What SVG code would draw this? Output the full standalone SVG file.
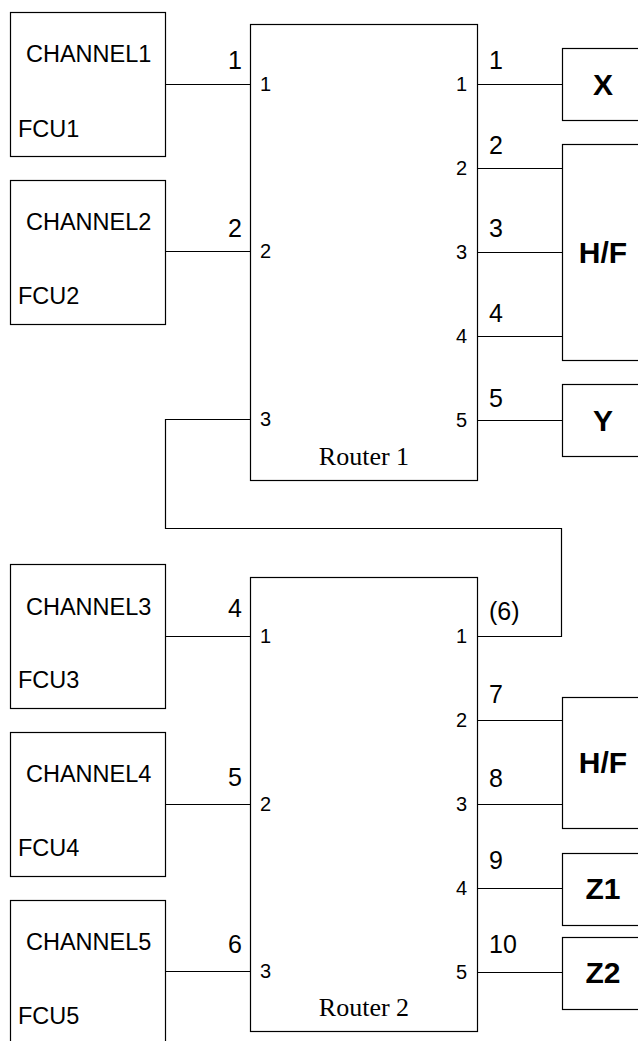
<svg xmlns="http://www.w3.org/2000/svg" width="638" height="1041" viewBox="0 0 638 1041">
<style>
.box{fill:#fff;stroke:#000;stroke-width:1.2}
.wire{fill:none;stroke:#000;stroke-width:1.2}
.t{font-family:"Liberation Sans",Arial,sans-serif;fill:#000}
.ch{font-size:23.5px}
.big{font-size:25px}
.sm{font-size:20px}
.e{text-anchor:end}
.bold{font-size:30px;font-weight:bold;text-anchor:middle}
.rt{font-family:"Liberation Serif","Times New Roman",serif;font-size:26px;text-anchor:middle;fill:#000}
</style>
<rect width="638" height="1041" fill="#fff"/>
<g id="connectors">
<path class="wire" d="M166 84.5H250M166 251.5H250M166 636.5H250M166 804.5H250M166 971.5H250"/>
<path class="wire" d="M478 84.5H562M478 168.5H562M478 252.5H562M478 336.5H562M478 420.5H562"/>
<path class="wire" d="M478 720.5H562M478 804.5H562M478 888.5H562M478 972.5H562"/>
<path class="wire" d="M250 419.5H165.5V528.5H561.5V636.5H478"/>
</g>
<g id="fcu1"><rect class="box" x="10.5" y="12.5" width="155" height="144"/><text class="t ch" x="26" y="62">CHANNEL1</text><text class="t ch" x="18" y="137">FCU1</text></g>
<g id="fcu2"><rect class="box" x="10.5" y="180.5" width="155" height="144"/><text class="t ch" x="26" y="230">CHANNEL2</text><text class="t ch" x="18" y="304">FCU2</text></g>
<g id="fcu3"><rect class="box" x="10.5" y="564.5" width="155" height="144"/><text class="t ch" x="26" y="615">CHANNEL3</text><text class="t ch" x="18" y="688">FCU3</text></g>
<g id="fcu4"><rect class="box" x="10.5" y="732.5" width="155" height="144"/><text class="t ch" x="26" y="782">CHANNEL4</text><text class="t ch" x="18" y="856">FCU4</text></g>
<g id="fcu5"><rect class="box" x="10.5" y="900.5" width="155" height="150"/><text class="t ch" x="26" y="950">CHANNEL5</text><text class="t ch" x="18" y="1024">FCU5</text></g>
<g id="router1"><rect class="box" x="250.5" y="24.5" width="227" height="456"/>
<text class="t sm" x="260" y="91">1</text><text class="t sm" x="260" y="258">2</text><text class="t sm" x="260" y="426">3</text>
<text class="t sm e" x="467" y="91">1</text><text class="t sm e" x="467" y="175">2</text><text class="t sm e" x="467" y="259">3</text><text class="t sm e" x="467" y="343">4</text><text class="t sm e" x="467" y="427">5</text>
<text class="rt" x="364" y="465">Router 1</text></g>
<g id="router2"><rect class="box" x="250.5" y="577.5" width="227" height="454"/>
<text class="t sm" x="260" y="643">1</text><text class="t sm" x="260" y="811">2</text><text class="t sm" x="260" y="978">3</text>
<text class="t sm e" x="467" y="643">1</text><text class="t sm e" x="467" y="727">2</text><text class="t sm e" x="467" y="811">3</text><text class="t sm e" x="467" y="895">4</text><text class="t sm e" x="467" y="979">5</text>
<text class="rt" x="364" y="1016">Router 2</text></g>
<g id="link-labels">
<text class="t big e" x="242" y="69">1</text><text class="t big e" x="242" y="237">2</text>
<text class="t big e" x="242" y="617">4</text><text class="t big e" x="242" y="786">5</text><text class="t big e" x="242" y="953">6</text>
<text class="t big" x="489" y="69">1</text><text class="t big" x="489" y="154">2</text><text class="t big" x="489" y="237">3</text><text class="t big" x="489" y="322">4</text><text class="t big" x="489" y="407">5</text>
<text class="t big" x="489" y="620">(6)</text><text class="t big" x="489" y="703">7</text><text class="t big" x="489" y="787">8</text><text class="t big" x="489" y="869">9</text><text class="t big" x="489" y="953">10</text>
</g>
<g id="x"><rect class="box" x="562.5" y="48.5" width="100" height="72"/><text class="t bold" x="603" y="95">X</text></g>
<g id="hf1"><rect class="box" x="562.5" y="144.5" width="100" height="216"/><text class="t bold" x="603" y="263">H/F</text></g>
<g id="y"><rect class="box" x="562.5" y="384.5" width="100" height="72"/><text class="t bold" x="603" y="431">Y</text></g>
<g id="hf2"><rect class="box" x="562.5" y="697.5" width="100" height="131"/><text class="t bold" x="603" y="773">H/F</text></g>
<g id="z1"><rect class="box" x="562.5" y="853.5" width="100" height="72"/><text class="t bold" x="603" y="899">Z1</text></g>
<g id="z2"><rect class="box" x="562.5" y="937.5" width="100" height="72"/><text class="t bold" x="603" y="983">Z2</text></g>
</svg>
